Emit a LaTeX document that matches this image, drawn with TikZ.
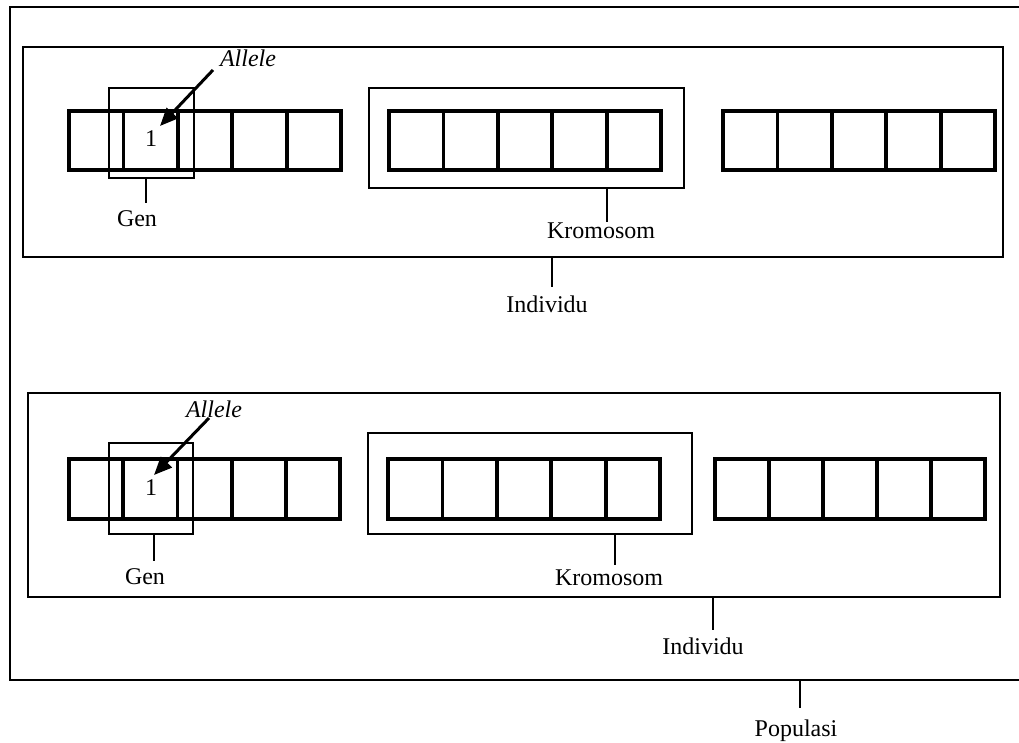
\documentclass[tikz,border=0pt]{standalone}
\usepackage{fontspec}
\setmainfont{Liberation Serif}
\usetikzlibrary{arrows.meta,calc}
\tikzset{
  outerbox/.style={draw, line width=1.6pt},
  selbox/.style={draw, line width=1.4pt},
  cellline/.style={line width=3.8pt, line cap=rect},
  lead/.style={line width=1.4pt},
  lbl/.style={inner sep=0pt, font=\fontsize{24}{27}\selectfont},
  allelearrow/.style={line width=3pt, -{Triangle[length=18pt,width=15pt]}}
}
\newcommand{\chromrow}[5]{%
  \coordinate (#1-nw) at (#2,#3);
  \coordinate (#1-se) at (#4,#5);
  \draw[cellline] (#1-nw) rectangle (#1-se);
  \foreach \k in {1,2,3,4}{
    \draw[cellline] ($(#1-nw)!\k/5!(#1-nw -| #1-se)$) -- ($(#1-nw |- #1-se)!\k/5!(#1-se)$);
  }%
}
\begin{document}
\begin{tikzpicture}[x=1pt,y=-1pt]
\useasboundingbox (0,0) rectangle (1019,742);
\fill[white] (0,0) rectangle (1019,742);
\begin{scope}
\clip (0,0) rectangle (1019,742);
% Populasi outer box (right side beyond the page)
\draw[outerbox] (10,7) rectangle (1040,680);

% ---------- Individu 1 ----------
\draw[outerbox] (23,47) rectangle (1003,257);
\chromrow{c11}{69}{111}{341}{170}
\chromrow{c12}{389}{111}{661}{170}
\chromrow{c13}{723}{111}{995}{170}
\node[selbox, minimum width=85pt, minimum height=90pt, inner sep=0pt] (gen1) at (151.5,133) {};
\node[selbox, minimum width=315pt, minimum height=100pt, inner sep=0pt] (krom1) at (526.5,138) {};
\node[lbl] (one1) at (151,139) {1};
\node[lbl, font=\fontsize{24}{27}\selectfont\itshape] (allele1) at (248,58) {Allele};
\coordinate (a1s) at (213,70);
\coordinate (a1e) at (160,126);
\draw[allelearrow] (a1s) -- (a1e);
\node[lbl] (genlbl1) at (137,219) {Gen};
\coordinate (genln1) at (146,203);
\draw[lead] (gen1.south -| genln1) -- (genln1);
\node[lbl] (kromlbl1) at (601,231) {Kromosom};
\coordinate (kromln1) at (607,222);
\draw[lead] (krom1.south -| kromln1) -- (kromln1);
\node[lbl] (indlbl1) at (547,304) {Individu};
\coordinate (indln1) at (552,287);
\draw[lead] (552,257) -- (indln1);

% ---------- Individu 2 ----------
\draw[outerbox] (28,393) rectangle (1000,597);
\chromrow{c21}{69}{459}{340}{519}
\chromrow{c22}{388}{459}{660}{519}
\chromrow{c23}{715}{459}{985}{519}
\node[selbox, minimum width=84pt, minimum height=91pt, inner sep=0pt] (gen2) at (151,488.5) {};
\node[selbox, minimum width=324pt, minimum height=101pt, inner sep=0pt] (krom2) at (530,483.5) {};
\node[lbl] (one2) at (151,488) {1};
\node[lbl, font=\fontsize{24}{27}\selectfont\itshape] (allele2) at (214,409) {Allele};
\coordinate (a2s) at (209,418);
\coordinate (a2e) at (154,475);
\draw[allelearrow] (a2s) -- (a2e);
\node[lbl] (genlbl2) at (145,577) {Gen};
\coordinate (genln2) at (154,561);
\draw[lead] (gen2.south -| genln2) -- (genln2);
\node[lbl] (kromlbl2) at (609,578) {Kromosom};
\coordinate (kromln2) at (615,565);
\draw[lead] (krom2.south -| kromln2) -- (kromln2);
\node[lbl] (indlbl2) at (703,646) {Individu};
\coordinate (indln2) at (713,630);
\draw[lead] (713,597) -- (indln2);

% ---------- Populasi ----------
\node[lbl] (poplbl) at (796,731) {Populasi};
\coordinate (popln) at (800,708);
\draw[lead] (800,680) -- (popln);
\end{scope}
\end{tikzpicture}
\end{document}
